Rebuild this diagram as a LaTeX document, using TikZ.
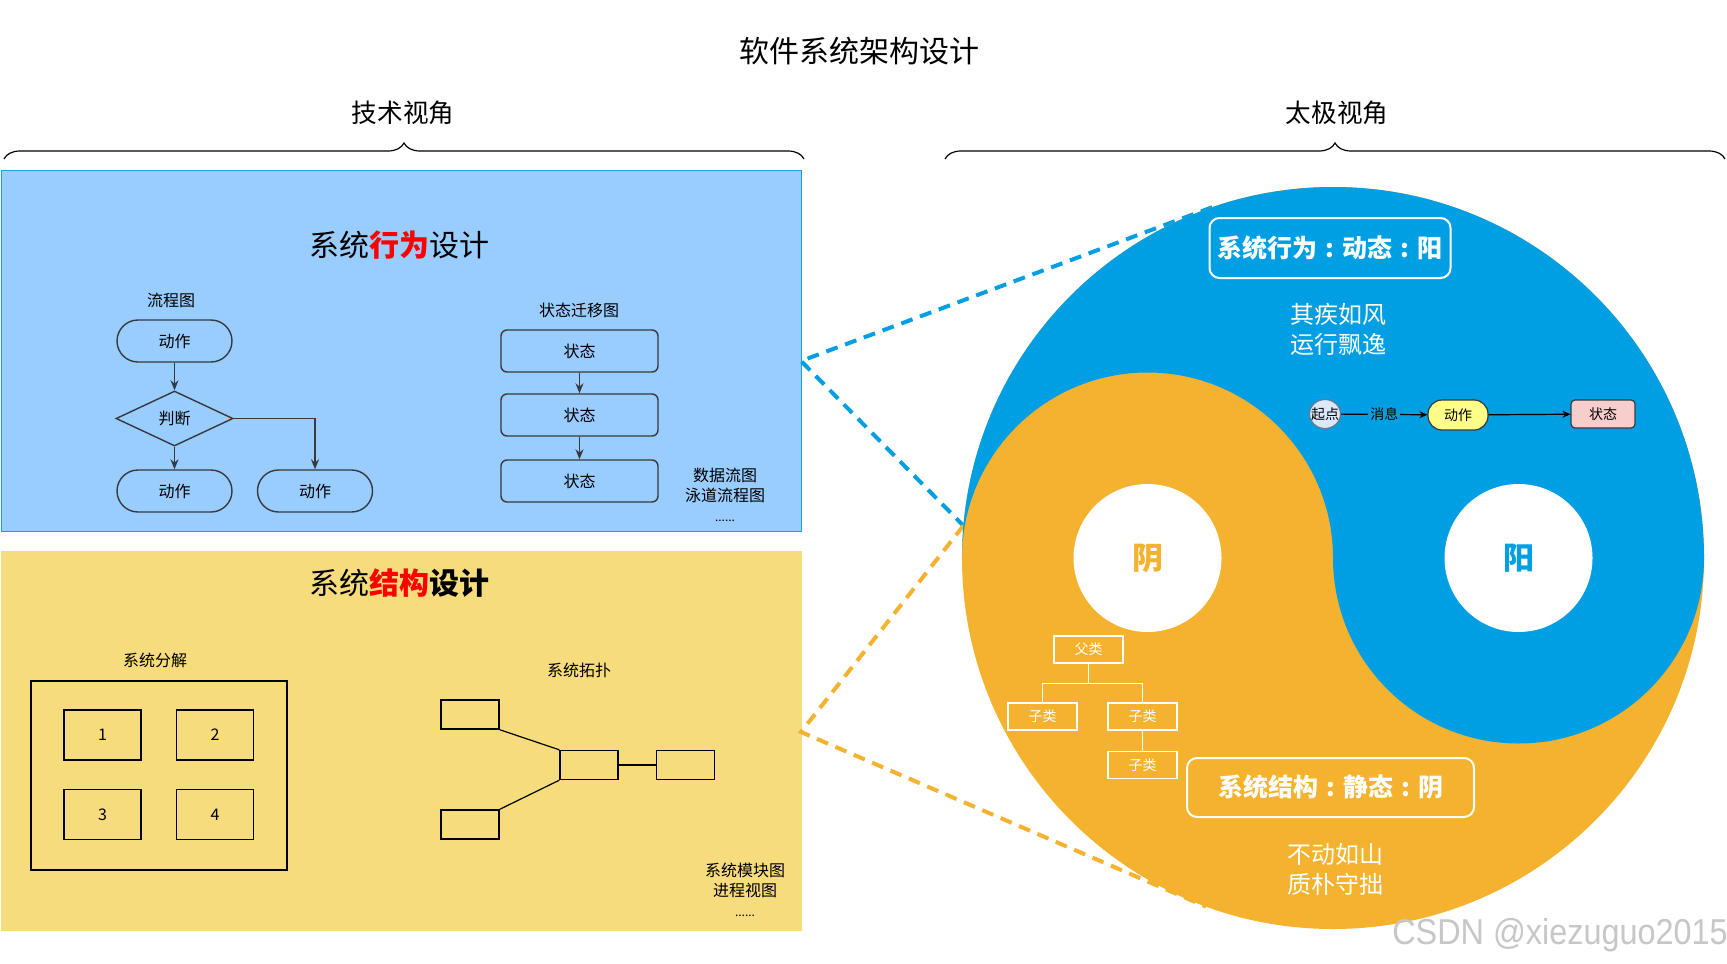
\documentclass[tikz,border=0pt]{standalone}
\usepackage{fontspec}
\setmainfont{Noto Sans CJK SC}
\newfontfamily\wmfont{Liberation Sans}
\usetikzlibrary{calc,arrows.meta,shapes.geometric,decorations.pathreplacing}

\definecolor{xwblue}{HTML}{99CCFF}
\definecolor{xwline}{HTML}{1BA1E2}
\definecolor{jgyellow}{HTML}{F6DC7C}
\definecolor{tjblue}{HTML}{009FE3}
\definecolor{tjorange}{HTML}{F5B22E}
\definecolor{nodeline}{HTML}{36393D}
\definecolor{qdfill}{HTML}{DAE8FC}
\definecolor{qdline}{HTML}{6C7A8F}
\definecolor{dzfill}{HTML}{FFFF88}
\definecolor{ztfill}{HTML}{F8CECC}

% centred colon for the two tags
\newcommand{\tagcolon}{\makebox[1em]{:}}

\begin{document}
\begin{tikzpicture}[x=0.5pt,y=-0.5pt,>=Stealth,
  txt/.style={inner sep=0pt, font=\fontsize{#1}{#1}\selectfont},
  brc/.style={decorate, decoration={brace, amplitude=8pt}, line width=0.6pt},
  panel/.style={anchor=north west, line width=0.6pt, minimum width=400pt, inner sep=0pt},
  fbox/.style={draw=nodeline, line width=0.7pt, minimum width=57.5pt, minimum height=21pt,
    rounded corners=10.5pt, inner sep=0pt, font=\fontsize{8}{8}\selectfont},
  fdia/.style={diamond, aspect=2, draw=nodeline, line width=0.7pt, minimum width=58.5pt,
    minimum height=27.5pt, inner sep=0pt, font=\fontsize{8}{8}\selectfont},
  sbox/.style={draw=nodeline, line width=0.7pt, minimum width=78.5pt, minimum height=21pt,
    rounded corners=3pt, inner sep=0pt, font=\fontsize{8}{8}\selectfont},
  arr/.style={-{Stealth[length=5pt,width=4pt]}, draw=nodeline, line width=0.7pt},
  kbox/.style={draw=black, line width=0.7pt, inner sep=0pt, font=\fontsize{8}{8}\selectfont},
  tbox/.style={kbox, minimum width=29pt, minimum height=14.5pt},
  kline/.style={draw=black, line width=0.6pt},
  dline/.style={line width=2pt, dash pattern=on 6pt off 4pt},
  hole/.style={circle, fill=white, minimum size=74pt, inner sep=0pt,
    font=\bfseries\fontsize{15.5}{15.5}\selectfont},
  tagbox/.style={draw=white, line width=1pt, rounded corners=5pt, text=white, inner sep=0pt,
    font=\bfseries\fontsize{12.5}{12.5}\selectfont},
  wtxt/.style={text=white, align=center, inner sep=0pt, font=\fontsize{12}{15}\selectfont},
  wbox/.style={draw=white, text=white, line width=0.6pt, minimum width=34.5pt,
    minimum height=13.5pt, inner sep=0pt, font=\fontsize{7}{7}\selectfont},
  wline/.style={draw=white, line width=0.6pt},
  marr/.style={-{Stealth[length=4pt,width=3.5pt]}, draw=black, line width=0.6pt},
  more/.style={align=center, inner sep=0pt, font=\fontsize{8}{10}\selectfont}]

\useasboundingbox (0,0) rectangle (1727,963);
\fill[white] (0,0) rectangle (1727,963);

% ----- headings and braces -----
\node[txt=15] (title) at (859,51) {软件系统架构设计};
\node[txt=12.8] (jsview) at (403,113) {技术视角};
\node[txt=12.8] (tjview) at (1337,113) {太极视角};
\coordinate (jsbr-l) at (4,159);
\coordinate (jsbr-r) at (804,159);
\coordinate (tjbr-l) at (945,159);
\coordinate (tjbr-r) at (1725,159);
\draw[brc] (jsbr-l) -- (jsbr-r);
\draw[brc] (tjbr-l) -- (tjbr-r);

% ----- behaviour panel -----
\node[panel, draw=xwline, fill=xwblue, minimum height=180.5pt] (xwbox) at (1,170) {};
\node[txt=15] (xwtitle) at (399,245) {系统{\color{red}\bfseries 行为}设计};

% flow chart
\node[txt=8] (lct) at (171,300) {流程图};
\node[fbox] (fa1) at (174.5,341) {动作};
\node[fdia] (fpd) at (174.5,418.5) {判断};
\node[fbox] (fa2) at (174.5,491) {动作};
\node[fbox] (fa3) at (315,491) {动作};
\draw[arr] (fa1) -- (fpd);
\draw[arr] (fpd) -- (fa2);
\draw[arr] (fpd.east) -| (fa3.north);

% state chart
\node[txt=8] (ztt) at (579,310) {状态迁移图};
\node[sbox] (zt1) at (579.5,351) {状态};
\node[sbox] (zt2) at (579.5,415) {状态};
\node[sbox] (zt3) at (579.5,481) {状态};
\draw[arr] (zt1) -- (zt2);
\draw[arr] (zt2) -- (zt3);
\node[more] (xwmore) at (725,495) {数据流图\\泳道流程图\\{\fontsize{6}{10}\selectfont ......}};

% ----- structure panel -----
\node[panel, draw=jgyellow, fill=jgyellow, minimum height=189.5pt] (jgbox) at (1,551) {};
\node[txt=15] (jgtitle) at (399,583) {系统{\bfseries{\color{red}结构}设计}};

% decomposition
\node[txt=8] (fjt) at (155,660) {系统分解};
\node[kbox, minimum width=128pt, minimum height=94.5pt] (fjbox) at (159,775.5) {};
\foreach \n/\x/\y in {1/102.5/735, 2/215/735, 3/102.5/814.5, 4/215/814.5}
  \node[kbox, minimum width=38.5pt, minimum height=25pt] (fj\n) at (\x,\y) {\n};

% topology
\node[txt=8] (tpt) at (579,670) {系统拓扑};
\node[tbox] (tp1) at (470,714.5) {};
\node[tbox] (tp2) at (470,824.5) {};
\node[tbox] (tpc) at (589,765) {};
\node[tbox] (tpr) at (685.5,765) {};
\draw[kline] (tp1.south east) -- (tpc.north west);
\draw[kline] (tp2.north east) -- (tpc.south west);
\draw[kline] (tpc) -- (tpr);
\node[more] (jgmore) at (745,890) {系统模块图\\进程视图\\{\fontsize{6}{10}\selectfont ......}};

% ----- taiji -----
\node[circle, minimum size=371pt, inner sep=0pt, outer sep=0pt] (tj) at (1333,558) {};
\coordinate (xwtip) at (801,361);
\coordinate (jgtip) at (801,732);
\draw[dline, tjblue] (tj.109.7) -- (xwtip) -- (tj.175.5);
\draw[dline, tjorange] (tj.175.5) -- (jgtip) -- (tj.250);

\fill[tjorange] (tj.center) circle[radius=371];
\fill[tjblue] ($(tj.center)+(-371,0)$) arc[start angle=180, end angle=360, radius=371]
  arc[start angle=0, end angle=180, radius=185.5]
  arc[start angle=0, end angle=-180, radius=185.5] -- cycle;
\node[hole, text=tjorange] (yin) at (1147.5,558) {阴};
\node[hole, text=tjblue] (yang) at (1518.5,558) {阳};

% yang side
\node[tagbox, minimum width=120.5pt, minimum height=30pt] (xwtag) at (1330,248)
  {系统行为\tagcolon 动态\tagcolon 阳};
\node[wtxt] (xwpoem) at (1338,329) {其疾如风\\运行飘逸};
\node[ellipse, draw=qdline, fill=qdfill, line width=0.6pt, minimum width=15.5pt,
  minimum height=14.5pt, inner sep=0pt, label={[txt=7]center:起点}] (qd) at (1325,414) {};
\node[draw=nodeline, fill=dzfill, line width=0.6pt, rounded corners=7pt, minimum width=30pt,
  minimum height=15pt, txt=7] (dz) at (1458,415) {动作};
\node[draw=nodeline, fill=ztfill, line width=0.6pt, rounded corners=2pt, minimum width=32pt,
  minimum height=14pt, txt=7] (zt) at (1603,414) {状态};
\draw[marr] (qd) -- node[fill=tjblue, inner sep=1pt, font=\fontsize{7}{7}\selectfont] (xx) {消息} (dz);
\draw[marr] (dz) -- (zt);

% yin side
\node[wbox] (fl) at (1088.5,649.5) {父类};
\node[wbox] (zl1) at (1042.5,716.5) {子类};
\node[wbox] (zl2) at (1142.5,716.5) {子类};
\node[wbox] (zl3) at (1142.5,765) {子类};
\draw[wline] (fl.south) -- ++(0,20) -| (zl1.north);
\draw[wline] (fl.south) -- ++(0,20) -| (zl2.north);
\draw[wline] (zl2) -- (zl3);
\node[tagbox, minimum width=143.5pt, minimum height=29.5pt] (jgtag) at (1330.5,787.5)
  {系统结构\tagcolon 静态\tagcolon 阴};
\node[wtxt] (jgpoem) at (1335,869) {不动如山\\质朴守拙};

% watermark
\node[text=black!22, font=\wmfont\fontsize{18}{18}\selectfont, xscale=0.9, inner sep=0pt] (wm)
  at (1560,935) {CSDN @xiezuguo2015};

\end{tikzpicture}
\end{document}
